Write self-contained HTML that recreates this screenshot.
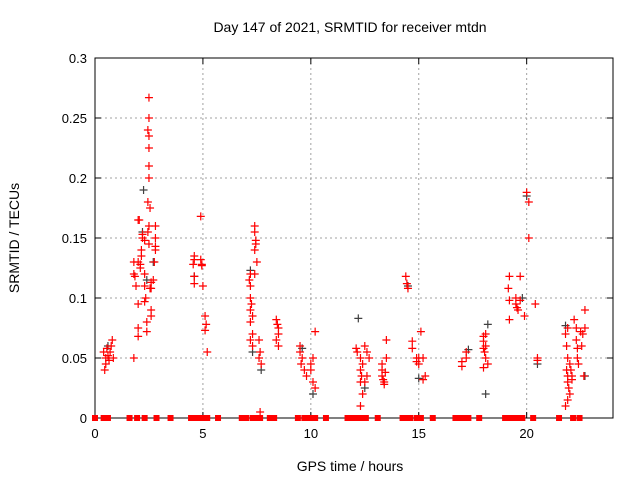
<!DOCTYPE html>
<html><head><meta charset="utf-8"><style>
body{margin:0;background:#fff}
svg{display:block;font-family:"Liberation Sans",sans-serif}
</style></head><body>
<svg id="chart" width="640" height="480" viewBox="0 0 640 480">
<rect width="640" height="480" fill="#fff"/>
<g id="grid"></g><g id="axes"></g><g id="marks"></g>
<text x="350" y="32" text-anchor="middle" font-size="14">Day 147 of 2021, SRMTID for receiver mtdn</text>
<text x="350" y="471" text-anchor="middle" font-size="14">GPS time / hours</text>
<text transform="translate(19,238) rotate(-90)" text-anchor="middle" font-size="14">SRMTID / TECUs</text>
</svg>
<script>
const xTicks=[0,5,10,15,20];
const yTicks=[0,0.05,0.1,0.15,0.2,0.25,0.3];
const yTickLabels=["0","0.05","0.1","0.15","0.2","0.25","0.3"];
const redTimes=[0.4,0.5,0.45,0.5,0.6,0.7,0.75,0.8,0.65,0.55,0.85,
1.8,1.8,1.85,1.9,1.8,2.0,2.05,2.0,2.1,2.1,2.0,2.0,2.0,2.15,2.15,2.2,2.2,2.3,2.3,2.3,2.35,2.4,2.4,2.3,2.5,2.5,2.45,2.5,2.5,2.5,2.5,2.45,2.55,2.5,2.45,2.5,2.6,2.6,2.55,2.6,2.6,2.7,2.8,2.8,2.8,2.8,2.75,
4.6,4.6,4.55,4.6,4.6,4.9,4.9,4.95,4.95,5.0,5.1,5.15,5.1,5.2,
7.2,7.15,7.2,7.2,7.25,7.2,7.3,7.2,7.3,7.2,7.3,7.4,7.4,7.45,7.45,7.4,7.5,7.4,7.6,7.65,7.6,7.7,7.65,
8.4,8.45,8.5,8.5,8.4,8.5,
9.5,9.5,9.6,9.55,9.7,9.8,10.0,10.0,10.1,10.2,10.1,10.2,
12.1,12.15,12.3,12.4,12.3,12.35,12.3,12.4,12.3,12.5,12.6,12.7,12.6,12.5,
13.3,13.3,13.3,13.35,13.4,13.4,13.5,13.5,13.45,
14.4,14.45,14.5,14.7,14.7,14.9,14.9,15.0,15.0,15.1,15.2,15.3,15.2,
17.0,17.0,17.2,17.2,
18.0,18.0,18.1,18.0,18.05,18.1,18.2,18.1,18.0,
19.2,19.15,19.2,19.2,19.5,19.55,19.6,19.5,19.7,19.7,19.9,20.0,20.1,20.1,20.4,20.5,20.5,
21.8,21.9,21.85,21.9,21.85,21.9,21.9,21.95,22.0,21.9,21.8,22.0,22.05,22.1,22.1,22.2,22.3,22.3,22.35,22.35,22.4,22.5,22.6,22.55,22.7,22.7,22.65];
const redValues=[0.055,0.045,0.04,0.05,0.052,0.055,0.06,0.065,0.048,0.058,0.05,
0.13,0.12,0.118,0.11,0.05,0.165,0.165,0.13,0.128,0.125,0.095,0.075,0.068,0.14,0.135,0.153,0.15,0.148,0.12,0.11,0.1,0.08,0.072,0.097,0.267,0.25,0.24,0.235,0.225,0.21,0.2,0.18,0.175,0.16,0.155,0.145,0.113,0.108,0.108,0.09,0.085,0.115,0.16,0.15,0.143,0.14,0.13,
0.135,0.132,0.128,0.118,0.112,0.168,0.132,0.128,0.127,0.11,0.085,0.078,0.073,0.055,
0.12,0.115,0.11,0.1,0.095,0.09,0.085,0.08,0.07,0.065,0.06,0.16,0.155,0.148,0.145,0.14,0.13,0.12,0.065,0.055,0.05,0.045,0.005,
0.082,0.078,0.075,0.07,0.065,0.06,
0.06,0.055,0.05,0.045,0.04,0.035,0.045,0.04,0.05,0.072,0.03,0.025,
0.058,0.055,0.05,0.045,0.04,0.035,0.03,0.02,0.01,0.06,0.055,0.05,0.035,0.03,
0.045,0.04,0.035,0.032,0.03,0.028,0.065,0.05,0.038,
0.118,0.112,0.108,0.064,0.058,0.05,0.047,0.05,0.045,0.072,0.05,0.035,0.032,
0.047,0.043,0.055,0.05,
0.068,0.064,0.06,0.058,0.055,0.05,0.045,0.07,0.042,
0.118,0.108,0.098,0.082,0.095,0.092,0.09,0.1,0.118,0.098,0.085,0.188,0.18,0.15,0.095,0.048,0.05,
0.07,0.075,0.06,0.05,0.04,0.035,0.03,0.025,0.02,0.015,0.01,0.045,0.04,0.035,0.032,0.082,0.075,0.065,0.058,0.05,0.045,0.072,0.07,0.06,0.09,0.075,0.035];
const greyTimes=[0.6,2.2,2.25,2.4,2.7,4.6,7.2,7.3,7.7,9.6,10.1,12.2,12.5,14.5,15.0,17.3,18.2,18.1,19.8,20.0,20.5,21.8,22.7];
const greyValues=[0.06,0.155,0.19,0.115,0.13,0.118,0.123,0.055,0.04,0.058,0.02,0.083,0.025,0.11,0.033,0.057,0.078,0.02,0.1,0.185,0.045,0.077,0.035];
const zeroTimes=[0,0.4,0.6,1.6,1.95,2.3,2.85,3.5,4.45,4.7,4.85,5.0,5.2,5.7,6.8,7.0,7.3,7.55,7.65,8.1,8.3,9.4,9.7,9.95,10.2,10.7,11.7,11.9,12.1,12.3,12.55,13.1,14.25,14.4,14.6,14.9,15.1,15.65,16.7,16.9,17.1,17.3,17.8,19.0,19.2,19.4,19.6,19.8,20.3,21.5,22.15,22.45];
const zeroValues=zeroTimes.map(()=>0);

const L=95,R=613,T=58,B=418,XMAX=24,YMAX=0.3;
const xs=v=>L+v/XMAX*(R-L);
const ys=v=>B-v/YMAX*(B-T);
const NS="http://www.w3.org/2000/svg";
function mk(tag,attrs,parent){const e=document.createElementNS(NS,tag);for(const k in attrs)e.setAttribute(k,attrs[k]);parent.appendChild(e);return e;}
const grid=document.getElementById('grid'),axes=document.getElementById('axes'),marks=document.getElementById('marks');
xTicks.forEach(t=>{
  const x=xs(t);
  if(t>0){const g=mk('line',{x1:x,x2:x,y1:T,y2:B,stroke:'#a0a0a0','stroke-dasharray':'2,3'},grid);
  
  }
  mk('line',{x1:x,x2:x,y1:B,y2:B-6,stroke:'#000'},axes);
  mk('line',{x1:x,x2:x,y1:T,y2:T+6,stroke:'#000'},axes);
  const tx=mk('text',{x:x,y:B+20,'text-anchor':'middle','font-size':13},axes);tx.textContent=t;
  
  
});
yTicks.forEach((t,i)=>{
  const y=ys(t);
  if(t>0&&t<YMAX){const g=mk('line',{x1:L,x2:R,y1:y,y2:y,stroke:'#a0a0a0','stroke-dasharray':'2,3'},grid);
  
  }
  mk('line',{x1:L,x2:L+6,y1:y,y2:y,stroke:'#000'},axes);
  mk('line',{x1:R,x2:R-6,y1:y,y2:y,stroke:'#000'},axes);
  const tx=mk('text',{x:L-8,y:y+5,'text-anchor':'end','font-size':13},axes);tx.textContent=yTickLabels[i];
  
  
});
const frame=mk('rect',{x:L,y:T,width:R-L,height:B-T,fill:'none',stroke:'#000'},axes);


function plus(t,v,col){
  const x=xs(t),y=ys(v);
  const p=mk('path',{d:`M${x-4},${y}H${x+4}M${x},${y-4}V${y+4}`,stroke:col,'stroke-width':1.2,fill:'none'},marks);
  return p;
}
greyTimes.forEach((t,i)=>{const p=plus(t,greyValues[i],'#404040');
  
  });
redTimes.forEach((t,i)=>{const p=plus(t,redValues[i],'#ff0000');
  
  });
zeroTimes.forEach((t,i)=>{const r=mk('rect',{x:xs(t)-3,y:ys(zeroValues[i])-3,width:6,height:6,fill:'#ff0000'},marks);
  
  });
</script>
</body></html>
